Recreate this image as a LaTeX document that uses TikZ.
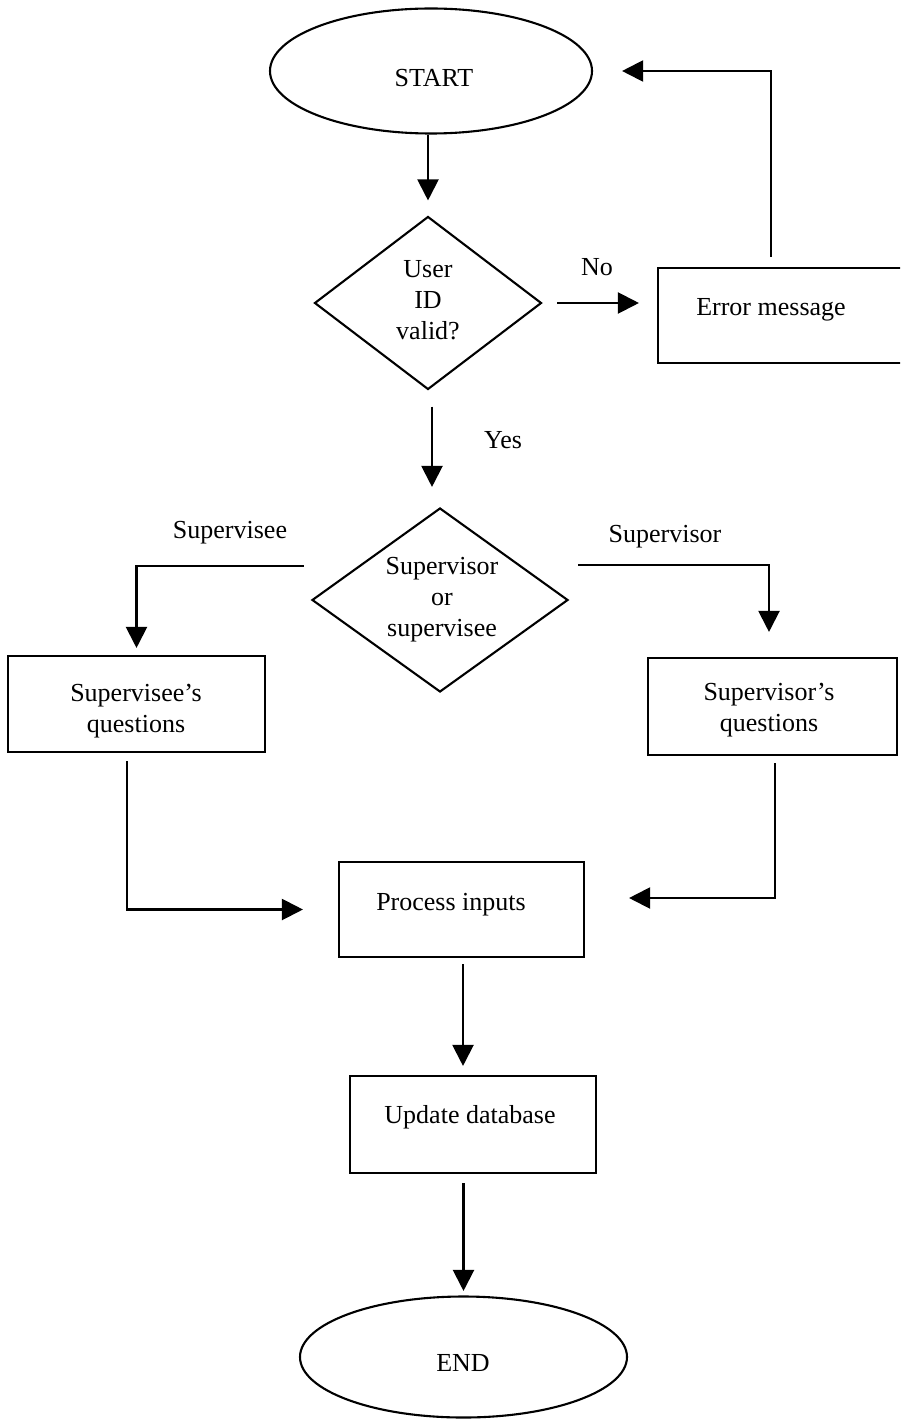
\documentclass[tikz,border=0pt]{standalone}
\usepackage{fontspec}
\setmainfont{Liberation Serif}
\usetikzlibrary{shapes.geometric,arrows.meta}
\tikzset{
  every node/.style={font=\fontsize{26pt}{31pt}\selectfont},
  ln/.style={line width=2.1pt},
  term/.style={ellipse, draw, ln, inner sep=0pt},
  decis/.style={diamond, draw, ln, inner sep=0pt},
  proc/.style={rectangle, draw, ln, inner sep=0pt},
  txt/.style={align=center, inner sep=0pt},
  arr/.style={ln, -{Triangle[length=21pt,width=21pt]}}
}
\begin{document}
\begin{tikzpicture}[x=1pt,y=-1pt]
\clip (0,0) rectangle (900,1420);
\fill[white] (0,0) rectangle (900,1420);

% shapes
\node[term, minimum width=322pt, minimum height=125pt] (start) at (431,71) {};
\node[txt] (starttxt) at (434,78) {START};

\node[decis, minimum width=227pt, minimum height=173pt] (d1) at (428,303) {};
\node[txt] (d1txt) at (428,300) {User\\ID\\valid?};

\node[proc, minimum width=250pt, minimum height=95pt] (err) at (783,315.5) {};
\node[txt] (errtxt) at (771,310) {Error message};

\node[decis, minimum width=256pt, minimum height=184pt] (d2) at (440,600) {};
\node[txt] (d2txt) at (442,600) {Supervisor\\or\\supervisee};

\node[proc, minimum width=257pt, minimum height=96pt] (q1) at (136.5,704) {};
\node[txt] (q1txt) at (136,711) {Supervisee's\\questions};

\node[proc, minimum width=249pt, minimum height=97pt] (q2) at (772.5,706.5) {};
\node[txt] (q2txt) at (769,710) {Supervisor's\\questions};

\node[proc, minimum width=245pt, minimum height=95pt] (pin) at (461.5,909.5) {};
\node[txt] (pintxt) at (451,905) {Process inputs};

\node[proc, minimum width=246pt, minimum height=97pt] (upd) at (473,1124.5) {};
\node[txt] (updtxt) at (470,1117) {Update database};

\node[term, minimum width=327pt, minimum height=121pt] (end) at (463.5,1357) {};
\node[txt] (endtxt) at (463,1363) {END};

% labels
\node[txt] (lno) at (597,267) {No};
\node[txt] (lyes) at (503,440) {Yes};
\node[txt] (lsee) at (230,533) {Supervisee};
\node[txt] (lsor) at (665,537) {Supervisor};

% connectors
\draw[arr, shorten >=15pt] (d1.north |- start.south) -- (d1.north);
\draw[arr, shorten <=14.5pt, shorten >=18pt] (d1.east) -- (d1.east -| err.west);
\draw[arr, shorten <=10pt, shorten >=29pt] ([xshift=-12pt]err.north) |- (start.east);
\draw[arr, shorten <=16pt, shorten >=20pt] ([xshift=4pt]d1.south) -- ([xshift=4pt]d1.south |- d2.north);
\draw[arr, shorten >=7pt] ([xshift=-7pt,yshift=34pt]d2.west) -| (q1.north);
\draw[arr, shorten >=25pt] ([xshift=9pt,yshift=35pt]d2.east) -| ([xshift=-3.5pt]q2.north);
\draw[arr, shorten <=8pt, shorten >=35pt] ([xshift=-9.5pt]q1.south) |- (pin.west);
\draw[arr, shorten <=7pt, shorten >=44pt] ([xshift=2.5pt]q2.south) |- ([yshift=11.5pt]pin.east);
\draw[arr, shorten <=6pt, shorten >=9pt] ([xshift=1.5pt]pin.south) -- ([xshift=1.5pt]pin.south |- upd.north);
\draw[arr, shorten <=9pt, shorten >=4.5pt] (end.north |- upd.south) -- (end.north);
\end{tikzpicture}
\end{document}
